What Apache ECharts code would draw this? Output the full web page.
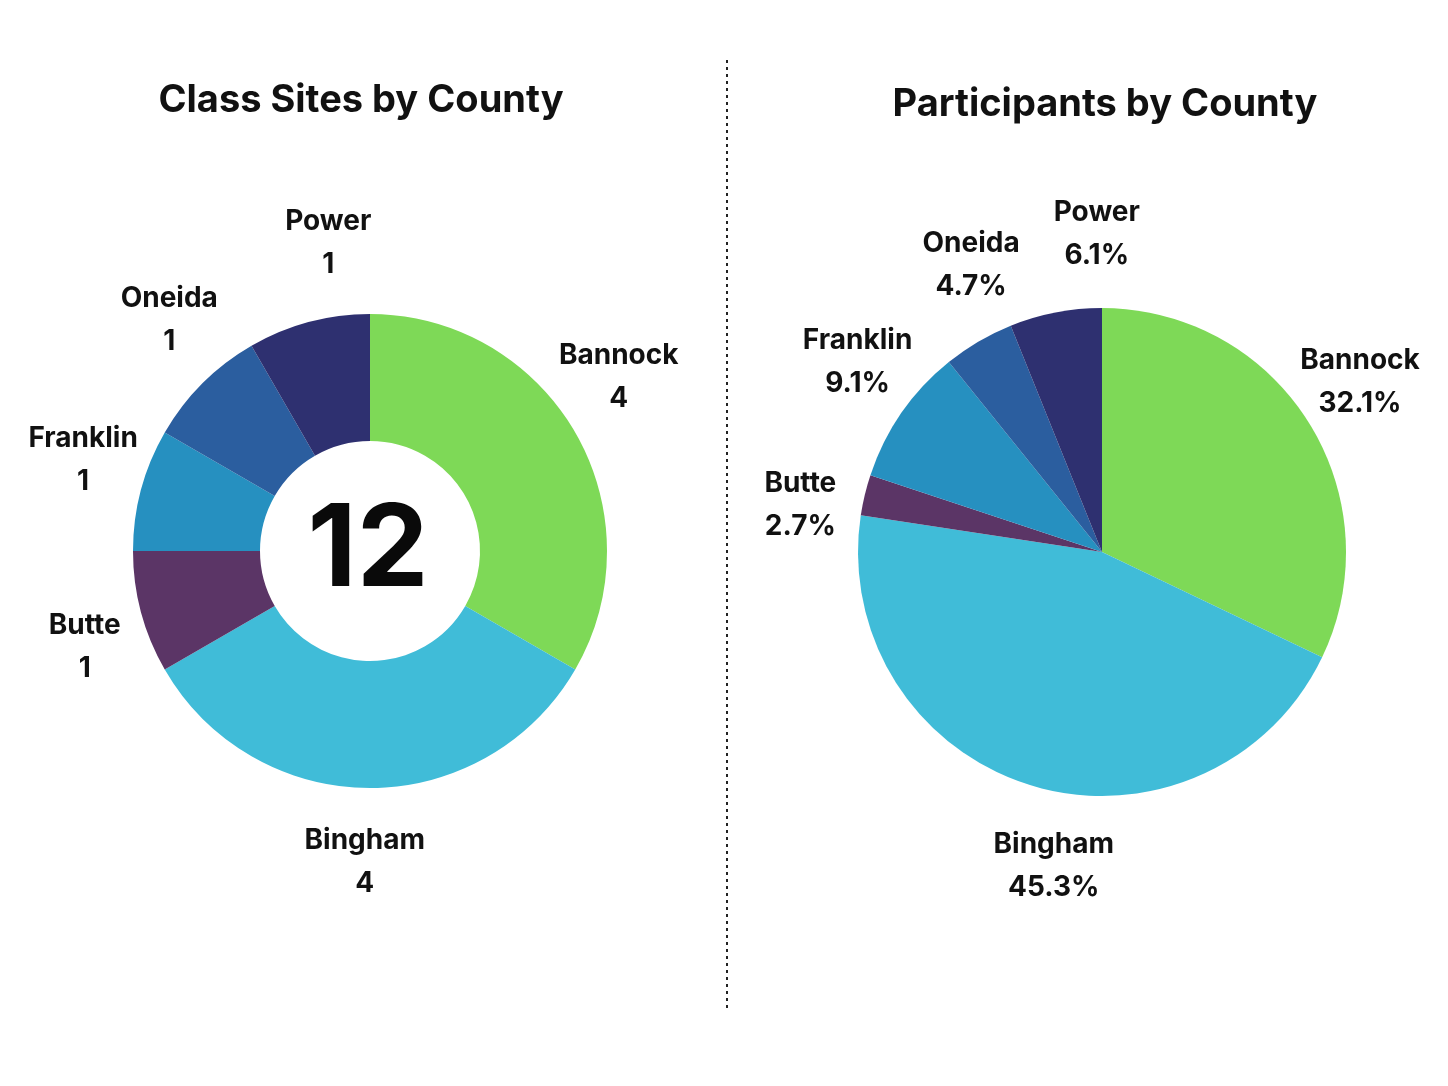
<!DOCTYPE html>
<html>
<head>
<meta charset="utf-8">
<script src="https://cdn.jsdelivr.net/npm/echarts@6/dist/echarts.min.js"></script>
<style>
html,body{margin:0;padding:0;background:#fff;}
#main{width:1448px;height:1086px;}
</style>
</head>
<body>
<div id="main"></div>
<script>
var counties = ['Bannock', 'Bingham', 'Butte', 'Franklin', 'Oneida', 'Power'];
var sites = [4, 4, 1, 1, 1, 1];
var participants = [32.1, 45.3, 2.7, 9.1, 4.7, 6.1];
var colors = ['#7ed957', '#40bcd8', '#5b3566', '#2690c0', '#2b5e9f', '#2e3070'];

var FONT = 'Inter';
var myChart = echarts.init(document.getElementById('main'));

function makeData(values){
	return counties.map(function(c, i){
		return {name: c, value: values[i], itemStyle: {color: colors[i]}};
	});
}

var totalSites = sites.reduce(function(a, b){ return a + b; }, 0);

// label placement: slice mid angle (+ small nudge in degrees) on an ellipse round the pie
function labelPlacer(values, cx, cy, rx, ry, nudge){
	var total = values.reduce(function(a, b){ return a + b; }, 0);
	return function(params){
		var before = 0;
		for(var i = 0; i < params.dataIndex; i++) before += values[i];
		var mid = (before + values[params.dataIndex] / 2) / total * 360 + nudge[params.dataIndex];
		var a = mid * Math.PI / 180;
		return {
			x: cx + rx * Math.sin(a),
			y: cy - ry * Math.cos(a),
			align: 'center',
			verticalAlign: 'middle'
		};
	};
}

var labelStyle = {
	position: 'outside',
	color: '#111',
	fontFamily: FONT,
	fontWeight: 'bold',
	fontSize: 28,
	lineHeight: 43
};

myChart.setOption({
	backgroundColor: '#fff',
	animation: false,
	title: [{
		text: 'Class Sites by County',
		left: 356,
		top: 77,
		textAlign: 'center',
		textStyle: {fontFamily: FONT, fontWeight: 'bold', fontSize: 38, color: '#111'}
	}, {
		text: 'Participants by County',
		left: 1100,
		top: 81,
		textAlign: 'center',
		textStyle: {fontFamily: FONT, fontWeight: 'bold', fontSize: 38, color: '#111'}
	}],
	graphic: [{
		type: 'line',
		shape: {x1: 727, y1: 60, x2: 727, y2: 1008},
		style: {stroke: '#222', lineWidth: 2, lineDash: [3, 4]}
	}, {
		type: 'text',
		x: 368,
		y: 552,
		style: {
			text: String(totalSites),
			fill: '#0a0a0a',
			font: 'bold 114px ' + FONT,
			align: 'center',
			verticalAlign: 'middle'
		}
	}],
	series: [{
		type: 'pie',
		center: [370, 551],
		radius: [110, 237],
		startAngle: 90,
		clockwise: true,
		avoidLabelOverlap: false,
		label: Object.assign({}, labelStyle, {
			formatter: function(p){ return p.name + '\n' + p.value; }
		}),
		labelLine: {show: false},
		labelLayout: labelPlacer(sites, 370, 551, 300, 311, [-4, 1, -3, 2, 3, 7]),
		emphasis: {disabled: true},
		data: makeData(sites)
	}, {
		type: 'pie',
		center: [1102, 552],
		radius: [0, 244],
		startAngle: 90,
		clockwise: true,
		avoidLabelOverlap: false,
		label: Object.assign({}, labelStyle, {
			formatter: function(p){ return p.name + '\n' + p.value.toFixed(1) + '%'; }
		}),
		labelLine: {show: false},
		labelLayout: labelPlacer(participants, 1102, 552, 305, 318, [0, -8, -5, 2, 5, 10]),
		emphasis: {disabled: true},
		data: makeData(participants)
	}]
});
</script>
</body>
</html>
